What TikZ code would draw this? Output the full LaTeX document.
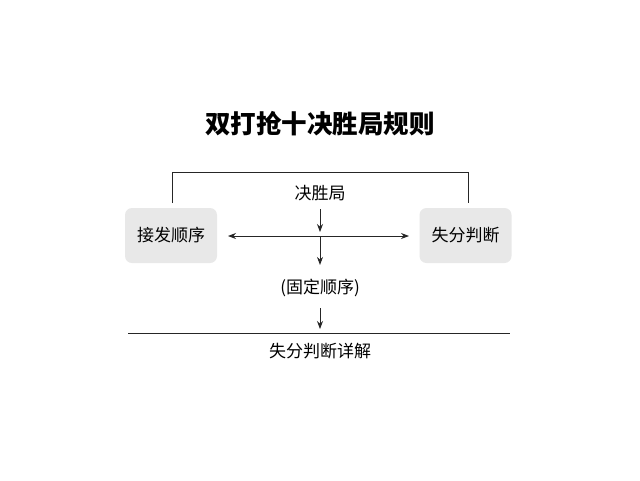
\documentclass[tikz,border=0pt]{standalone}
\usepackage{fontspec}
\setmainfont{Noto Sans CJK SC}
\usetikzlibrary{arrows.meta}
\begin{document}
\begin{tikzpicture}[x=1pt,y=-1pt,
  lbl/.style={inner sep=0pt,font=\fontsize{17}{20}\selectfont},
  sidebox/.style={draw=none,fill=black!9,rounded corners=7pt,minimum width=92pt,minimum height=55pt,inner sep=0pt,font=\fontsize{17}{20}\selectfont},
  line/.style={draw=black!85,line width=0.85pt},
  tip/.style={Stealth[length=8pt,width=6pt]},
  arr/.style={line,-{Stealth[length=8pt,width=6pt]}}]
\useasboundingbox (0,0) rectangle (640,480);
\fill[white] (0,0) rectangle (640,480);
\node[font=\fontsize{25.5}{30}\selectfont\bfseries,inner sep=0pt] (title) at (320,124) {双打抢十决胜局规则};
\node[sidebox] (left) at (171,235.5) {接发顺序};
\node[sidebox] (right) at (465.5,235.5) {失分判断};
\node[lbl] (jsj) at (320,193) {决胜局};
\node[lbl] (gd) at (320,288) {(固定顺序)};
\node[lbl] (xj) at (320,351) {失分判断详解};
\coordinate (c) at (320,236);
\coordinate (la) at (228,236);
\coordinate (ra) at (409,236);
\coordinate (lb) at (172,203);
\coordinate (tl) at (172,172);
\coordinate (tr) at (468,172);
\coordinate (rb) at (468,203);
\coordinate (h1) at (128,333);
\coordinate (h2) at (510,333);
\draw[line] (lb) -- (tl) -- (tr) -- (rb);
\draw[line,{Stealth[length=8pt,width=6pt]}-{Stealth[length=8pt,width=6pt]}] (la) -- (ra);
\draw[arr,shorten <=8pt,shorten >=4pt] (jsj.south) -- (c);
\draw[arr,shorten >=14pt] (c) -- (gd.north);
\draw[arr,shorten <=11pt,shorten >=4pt] (gd.south) -- (gd.south |- h1);
\draw[line] (h1) -- (h2);
\end{tikzpicture}
\end{document}
